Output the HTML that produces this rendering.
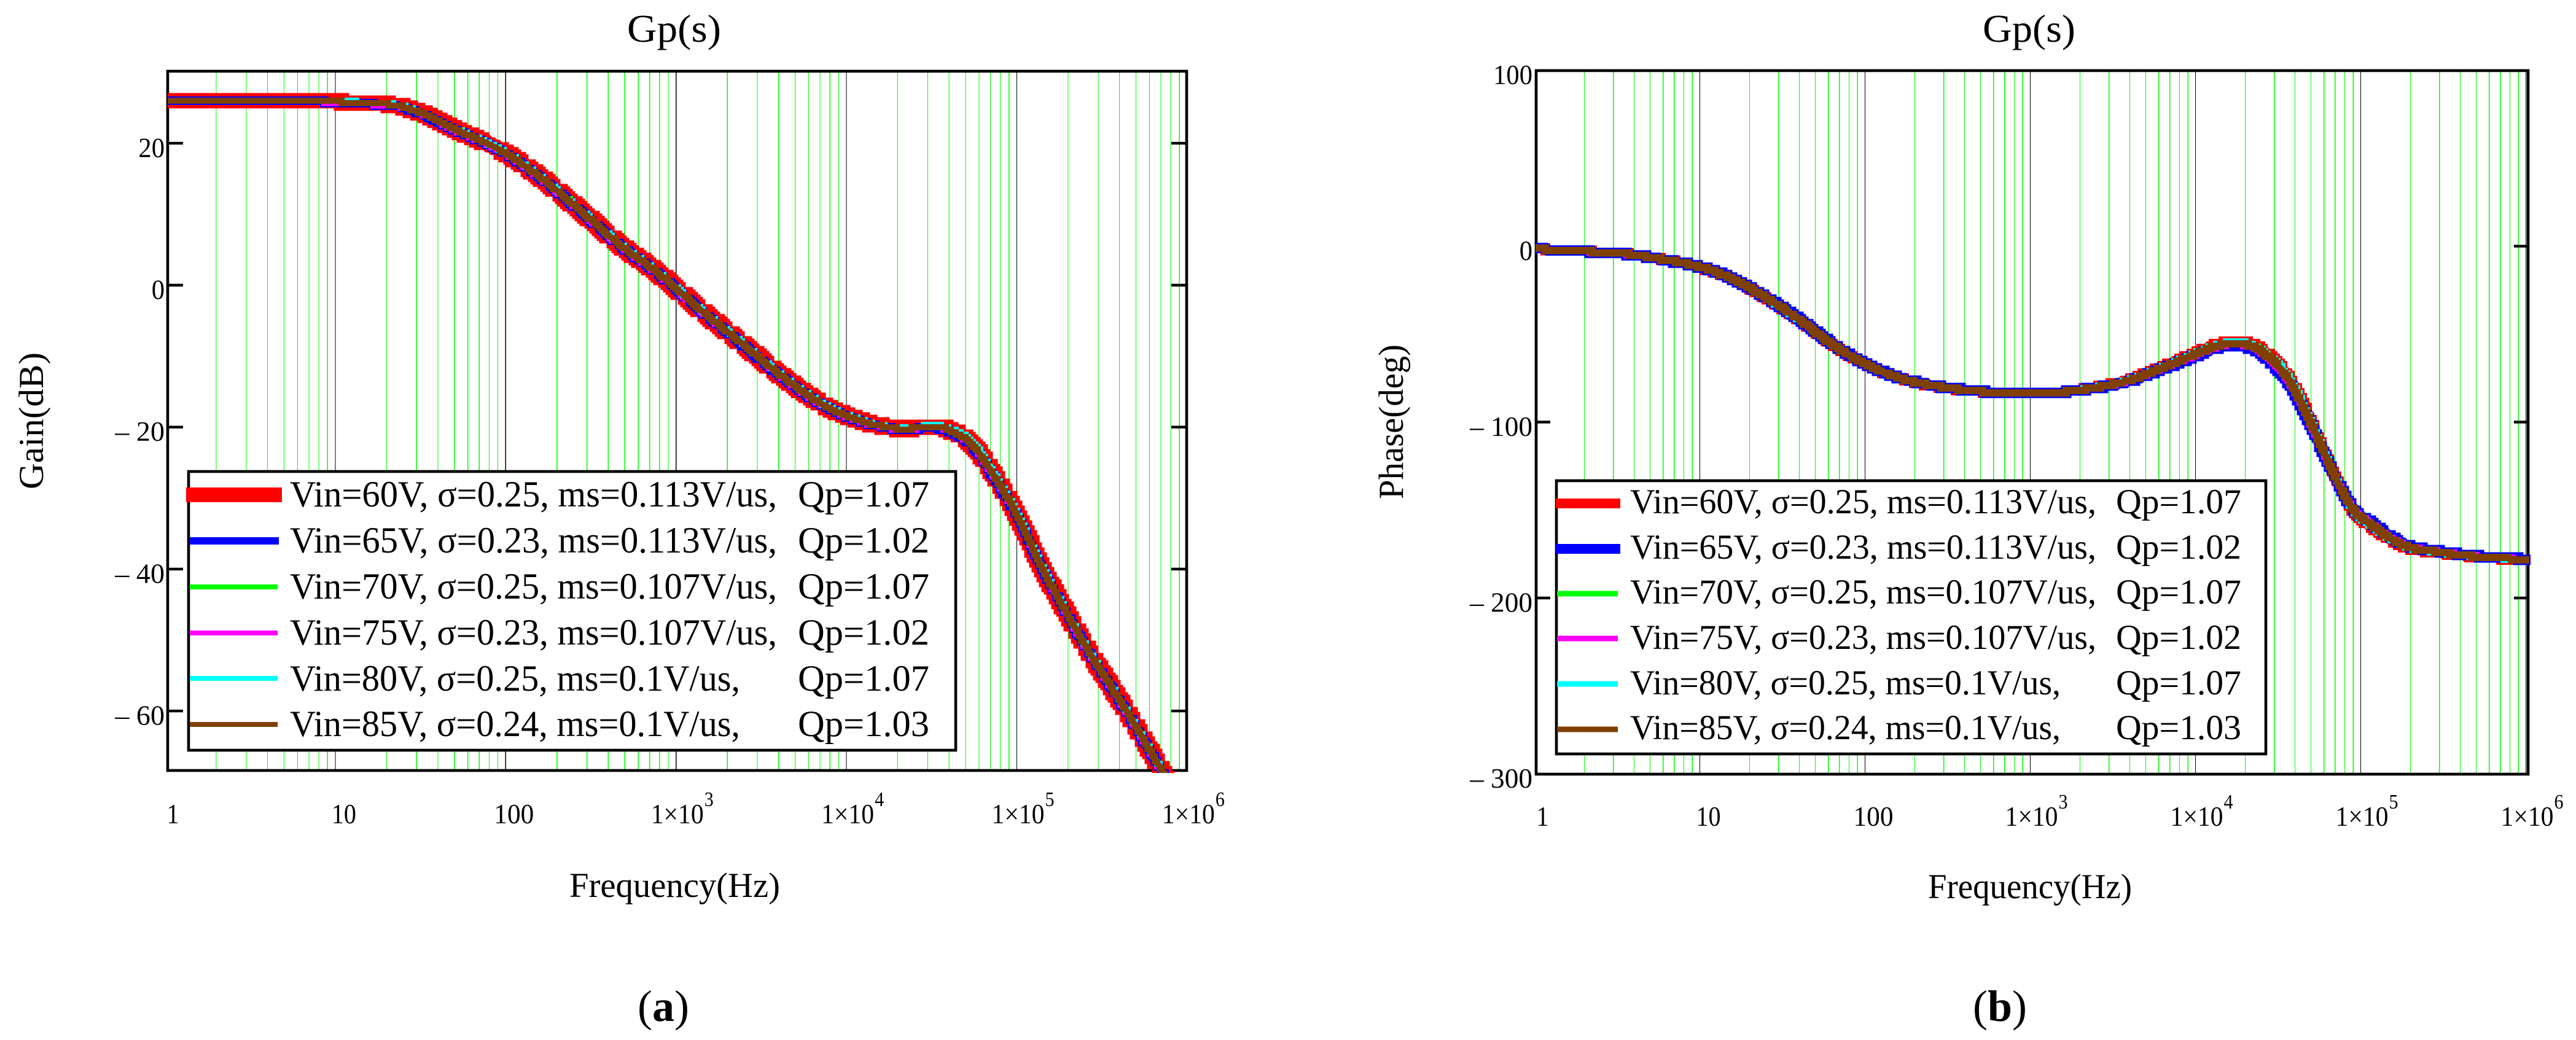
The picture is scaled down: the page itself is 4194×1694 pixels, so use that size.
<!DOCTYPE html>
<html lang="en">
<head>
<meta charset="utf-8">
<title>Gp(s) Bode plots</title>
<style>
html,body{margin:0;padding:0;background:#fff;}
#figure{display:block;width:4194px;height:1694px;background:#fff;}
text{font-family:"Liberation Serif","DejaVu Serif",serif;fill:#000;}
</style>
</head>
<body>
<svg id="figure" xmlns="http://www.w3.org/2000/svg" width="4194" height="1694" viewBox="0 0 4194 1694">
  <defs>
    <clipPath id="gain-clip"><rect x="273" y="116" width="1661" height="1143"/></clipPath>
    <clipPath id="phase-clip"><rect x="2500" y="115" width="1620" height="1148"/></clipPath>
  </defs>

  <g id="gain-panel">
    <g id="gain-grid"></g>
    <rect x="273" y="116" width="1659" height="1139" fill="none" stroke="#000" stroke-width="4.6"/>
    <g id="gain-ticks"></g>
    <g id="gain-series" clip-path="url(#gain-clip)"></g>
    <text x="1021" y="68" font-size="64" textLength="153" lengthAdjust="spacingAndGlyphs">Gp(s)</text>
    <text transform="translate(70,797) rotate(-90)" font-size="57" textLength="223" lengthAdjust="spacingAndGlyphs">Gain(dB)</text>
    <text x="927" y="1461" font-size="57" textLength="343" lengthAdjust="spacingAndGlyphs">Frequency(Hz)</text>
    <g>
      <rect x="307" y="768" width="1249" height="454" fill="#fff" stroke="#000" stroke-width="4.6"/>
      <line x1="303" x2="459" y1="806" y2="806" stroke="#f00" stroke-width="24"/>
      <line x1="309" x2="454" y1="881" y2="881" stroke="#00f" stroke-width="12"/>
      <line x1="309" x2="452" y1="956" y2="956" stroke="#0f0" stroke-width="8"/>
      <line x1="309" x2="452" y1="1031" y2="1031" stroke="#f0f" stroke-width="8"/>
      <line x1="309" x2="452" y1="1105" y2="1105" stroke="#0ff" stroke-width="8"/>
      <line x1="309" x2="452" y1="1180" y2="1180" stroke="#804000" stroke-width="8"/>
      <text x="472" y="825" font-size="60" textLength="793" lengthAdjust="spacingAndGlyphs">Vin=60V, σ=0.25, ms=0.113V/us,</text>
      <text x="1299" y="825" font-size="60" textLength="214" lengthAdjust="spacingAndGlyphs">Qp=1.07</text>
      <text x="472" y="900" font-size="60" textLength="793" lengthAdjust="spacingAndGlyphs">Vin=65V, σ=0.23, ms=0.113V/us,</text>
      <text x="1299" y="900" font-size="60" textLength="214" lengthAdjust="spacingAndGlyphs">Qp=1.02</text>
      <text x="472" y="975" font-size="60" textLength="793" lengthAdjust="spacingAndGlyphs">Vin=70V, σ=0.25, ms=0.107V/us,</text>
      <text x="1299" y="975" font-size="60" textLength="214" lengthAdjust="spacingAndGlyphs">Qp=1.07</text>
      <text x="472" y="1050" font-size="60" textLength="793" lengthAdjust="spacingAndGlyphs">Vin=75V, σ=0.23, ms=0.107V/us,</text>
      <text x="1299" y="1050" font-size="60" textLength="214" lengthAdjust="spacingAndGlyphs">Qp=1.02</text>
      <text x="472" y="1125" font-size="60" textLength="733" lengthAdjust="spacingAndGlyphs">Vin=80V, σ=0.25, ms=0.1V/us,</text>
      <text x="1299" y="1125" font-size="60" textLength="214" lengthAdjust="spacingAndGlyphs">Qp=1.07</text>
      <text x="472" y="1199" font-size="60" textLength="733" lengthAdjust="spacingAndGlyphs">Vin=85V, σ=0.24, ms=0.1V/us,</text>
      <text x="1299" y="1199" font-size="60" textLength="214" lengthAdjust="spacingAndGlyphs">Qp=1.03</text>
    </g>
    <text x="1038" y="1663" font-size="72">(<tspan font-weight="bold">a</tspan>)</text>
  </g>

  <g id="phase-panel">
    <g id="phase-grid"></g>
    <rect x="2501" y="115" width="1615" height="1146" fill="none" stroke="#000" stroke-width="4.6"/>
    <g id="phase-ticks"></g>
    <g id="phase-series" clip-path="url(#phase-clip)"></g>
    <text x="3228" y="68" font-size="64" textLength="151" lengthAdjust="spacingAndGlyphs">Gp(s)</text>
    <text transform="translate(2284,813) rotate(-90)" font-size="57" textLength="252" lengthAdjust="spacingAndGlyphs">Phase(deg)</text>
    <text x="3139" y="1463" font-size="57" textLength="332" lengthAdjust="spacingAndGlyphs">Frequency(Hz)</text>
    <g>
      <rect x="2534" y="783" width="1155" height="445" fill="#fff" stroke="#000" stroke-width="4.6"/>
      <line x1="2533" x2="2638" y1="820" y2="820" stroke="#f00" stroke-width="16"/>
      <line x1="2533" x2="2638" y1="894" y2="894" stroke="#00f" stroke-width="16"/>
      <line x1="2535" x2="2634" y1="967" y2="967" stroke="#0f0" stroke-width="9"/>
      <line x1="2535" x2="2634" y1="1040" y2="1040" stroke="#f0f" stroke-width="9"/>
      <line x1="2535" x2="2634" y1="1114" y2="1114" stroke="#0ff" stroke-width="9"/>
      <line x1="2535" x2="2634" y1="1188" y2="1188" stroke="#804000" stroke-width="9"/>
      <text x="2654" y="836" font-size="57" textLength="759" lengthAdjust="spacingAndGlyphs">Vin=60V, σ=0.25, ms=0.113V/us,</text>
      <text x="3445" y="836" font-size="57" textLength="204" lengthAdjust="spacingAndGlyphs">Qp=1.07</text>
      <text x="2654" y="910" font-size="57" textLength="759" lengthAdjust="spacingAndGlyphs">Vin=65V, σ=0.23, ms=0.113V/us,</text>
      <text x="3445" y="910" font-size="57" textLength="204" lengthAdjust="spacingAndGlyphs">Qp=1.02</text>
      <text x="2654" y="983" font-size="57" textLength="759" lengthAdjust="spacingAndGlyphs">Vin=70V, σ=0.25, ms=0.107V/us,</text>
      <text x="3445" y="983" font-size="57" textLength="204" lengthAdjust="spacingAndGlyphs">Qp=1.07</text>
      <text x="2654" y="1057" font-size="57" textLength="759" lengthAdjust="spacingAndGlyphs">Vin=75V, σ=0.23, ms=0.107V/us,</text>
      <text x="3445" y="1057" font-size="57" textLength="204" lengthAdjust="spacingAndGlyphs">Qp=1.02</text>
      <text x="2654" y="1131" font-size="57" textLength="701" lengthAdjust="spacingAndGlyphs">Vin=80V, σ=0.25, ms=0.1V/us,</text>
      <text x="3445" y="1131" font-size="57" textLength="204" lengthAdjust="spacingAndGlyphs">Qp=1.07</text>
      <text x="2654" y="1204" font-size="57" textLength="701" lengthAdjust="spacingAndGlyphs">Vin=85V, σ=0.24, ms=0.1V/us,</text>
      <text x="3445" y="1204" font-size="57" textLength="204" lengthAdjust="spacingAndGlyphs">Qp=1.03</text>
    </g>
    <text x="3212" y="1663" font-size="72">(<tspan font-weight="bold">b</tspan>)</text>
  </g>
</svg>

<script>
/* ---------- data ---------- */
const gainFreqHz = [1, 9.2, 16, 23, 33.5, 48, 100, 148, 263, 457, 794, 1380, 2400, 4170, 7240, 12900, 20000, 38900, 53700, 75900, 105000, 132000, 204000, 251000, 437000, 708000, 794000];
const gainVin60 = [25.9, 25.9, 25.6, 25.3, 24.05, 22.2, 18.6, 15.8, 10.9, 5.9, 1.6, -3.4, -8.1, -12.8, -16.8, -19.3, -20.2, -20.3, -22.2, -27.3, -33.3, -38.5, -46.9, -50.7, -59.9, -68.4, -70.5];
const gainVin65 = [25.9, 25.8, 25.5, 25.2, 23.9, 22.1, 18.5, 15.7, 10.8, 5.8, 1.5, -3.5, -8.2, -12.9, -16.9, -19.4, -20.3, -20.5, -22.5, -27.6, -33.5, -38.6, -47.0, -50.8, -60.0, -68.5, -70.6];
const gainVin70 = [25.9, 25.9, 25.7, 25.3, 24.1, 22.3, 18.7, 15.9, 11.0, 5.9, 1.6, -3.4, -8.0, -12.8, -16.8, -19.3, -20.1, -20.2, -22.1, -27.2, -33.2, -38.4, -46.9, -50.7, -59.9, -68.4, -70.5];
const gainVin75 = [25.9, 25.8, 25.5, 25.2, 24.0, 22.1, 18.5, 15.7, 10.8, 5.8, 1.5, -3.5, -8.1, -12.9, -16.9, -19.4, -20.3, -20.4, -22.4, -27.5, -33.4, -38.6, -47.0, -50.8, -60.0, -68.5, -70.6];
const gainVin80 = [25.9, 26.0, 25.7, 25.4, 24.1, 22.3, 18.7, 15.9, 11.0, 6.0, 1.7, -3.3, -8.0, -12.7, -16.7, -19.2, -20.1, -20.1, -21.9, -27.1, -33.1, -38.3, -46.8, -50.6, -59.8, -68.3, -70.4];
const gainVin85 = [25.9, 25.9, 25.6, 25.3, 24.05, 22.2, 18.6, 15.8, 10.9, 5.9, 1.6, -3.4, -8.1, -12.8, -16.8, -19.3, -20.2, -20.3, -22.3, -27.4, -33.3, -38.5, -46.9, -50.7, -59.9, -68.4, -70.5];

const phaseFreqHz = [1, 1.58, 2.51, 3.98, 6.17, 9.77, 15.5, 24.5, 38.9, 61.7, 97.7, 151, 240, 380, 603, 1510, 2400, 3800, 5890, 9330, 13200, 18600, 23400, 29500, 37200, 46800, 58900, 74100, 93300, 115000, 135000, 182000, 288000, 513000, 1000000];
const phaseVin60 = [-1.3, -2.5, -3.4, -4.9, -7.8, -11.6, -18.4, -28.8, -41.2, -55.3, -66.6, -74.2, -78.9, -81.6, -83.1, -83.1, -80.4, -76.4, -69.6, -61.8, -56.0, -53.8, -56.6, -63.8, -75.0, -93.0, -114.5, -136.0, -152.5, -159.5, -164.0, -170.8, -174.3, -176.9, -178.3];
const phaseVin65 = [-1.3, -2.5, -3.5, -5.0, -7.9, -11.5, -18.1, -28.5, -40.8, -54.8, -66.2, -73.9, -78.6, -81.4, -83.1, -83.1, -80.8, -77.2, -70.8, -63.6, -58.0, -56.6, -59.4, -67.0, -78.5, -96.5, -116.5, -136.0, -150.8, -157.0, -162.0, -169.2, -173.2, -176.2, -177.9];
const phaseVin70 = [-1.3, -2.5, -3.4, -4.9, -7.8, -11.5, -18.2, -28.6, -40.9, -55.0, -66.4, -74.0, -78.7, -81.5, -83.1, -83.1, -80.5, -76.6, -69.9, -62.2, -56.5, -54.6, -57.2, -64.6, -75.8, -93.8, -115.0, -136.0, -152.0, -158.5, -163.2, -170.2, -173.8, -176.6, -178.1];
const phaseVin75 = [-1.3, -2.5, -3.5, -5.0, -7.8, -11.5, -18.2, -28.6, -40.9, -55.0, -66.4, -74.0, -78.7, -81.5, -83.1, -83.1, -80.7, -77.0, -70.5, -63.2, -57.6, -56.0, -58.8, -66.2, -77.8, -95.8, -116.0, -136.0, -151.0, -157.6, -162.6, -169.6, -173.4, -176.4, -178.0];
const phaseVin80 = [-1.3, -2.5, -3.4, -4.9, -7.8, -11.5, -18.2, -28.7, -41.0, -55.1, -66.4, -74.0, -78.7, -81.5, -83.1, -83.1, -80.5, -76.5, -69.8, -62.0, -56.2, -54.2, -56.8, -64.0, -75.2, -93.2, -114.8, -136.0, -152.2, -159.0, -163.6, -170.4, -174.0, -176.8, -178.2];
const phaseVin85 = [-1.3, -2.5, -3.4, -4.9, -7.8, -11.5, -18.2, -28.6, -40.9, -55.0, -66.4, -74.0, -78.7, -81.5, -83.1, -83.1, -80.6, -76.8, -70.2, -62.6, -57.0, -55.2, -57.9, -65.4, -76.8, -94.8, -115.6, -136.0, -151.6, -158.0, -163.0, -170.0, -173.7, -176.6, -178.1];

const seriesNames = ['vin-60v', 'vin-65v', 'vin-70v', 'vin-75v', 'vin-80v', 'vin-85v'];
const seriesColors = ['#ff0000', '#0000ff', '#00ff00', '#ff00ff', '#00ffff', '#804000'];

const gainTickValues = [20, 0, -20, -40, -60];
const gainTickLabels = ['20', '0', '\u2013 20', '\u2013 40', '\u2013 60'];
const phaseTickValues = [100, 0, -100, -200, -300];
const phaseTickLabels = ['100', '0', '\u2013 100', '\u2013 200', '\u2013 300'];
const decadeExponents = [0, 1, 2, 3, 4, 5, 6];
const decadeLabels = ['1', '10', '100', '1\u00d710', '1\u00d710', '1\u00d710', '1\u00d710'];
const decadePowers = ['', '', '', '3', '4', '5', '6'];

/* ---------- axis functions ---------- */
const gainX = hz => 268.5 + 277.4 * Math.log10(hz);
const gainY = db => 464.5 - 11.56 * db;
const phaseX = hz => 2498.5 + 269 * Math.log10(hz);
const phaseY = deg => 401 - 2.865 * deg;

const NS = 'http://www.w3.org/2000/svg';

function drawGrid(groupId, xFn, top, bottom, prefix) {
  const group = document.getElementById(groupId);
  for (const exp of decadeExponents) {
    if (exp === 6) continue;
    for (let m = 2; m <= 10; m++) {
      const hz = m * Math.pow(10, exp);
      const el = document.createElementNS(NS, 'line');
      
      
      el.setAttribute('x1', xFn(hz));
      el.setAttribute('x2', xFn(hz));
      el.setAttribute('y1', top);
      el.setAttribute('y2', bottom);
      el.setAttribute('stroke', m === 10 ? '#000' : '#00ff00');
      el.setAttribute('stroke-width', '1.2');
      el.setAttribute('shape-rendering', 'crispEdges');
      group.appendChild(el);
    }
  }
}

function drawYTicks(groupId, yFn, values, labels, leftX, rightX, len, labelRight, frameTop, frameBottom, prefix) {
  const group = document.getElementById(groupId);
  values.forEach((value, i) => {
    const y = yFn(value);
    if (y > frameTop + 5 && y < frameBottom - 5) {
      const a = document.createElementNS(NS, 'line');
      
      
      a.setAttribute('x1', leftX);
      a.setAttribute('x2', leftX + len);
      a.setAttribute('y1', y);
      a.setAttribute('y2', y);
      a.setAttribute('stroke', '#000');
      a.setAttribute('stroke-width', '4.4');
      group.appendChild(a);
      const b = document.createElementNS(NS, 'line');
      
      
      b.setAttribute('x1', rightX);
      b.setAttribute('x2', rightX - len);
      b.setAttribute('y1', y);
      b.setAttribute('y2', y);
      b.setAttribute('stroke', '#000');
      b.setAttribute('stroke-width', '4.4');
      group.appendChild(b);
    }
    const label = labels[i];
    const digits = label.replace(/[^0-9]/g, '').length;
    const w = digits * 21.3 + (label.indexOf('\u2013') >= 0 ? 38 : 0);
    const t = document.createElementNS(NS, 'text');
    
    
    t.setAttribute('x', labelRight - w);
    t.setAttribute('y', y + 22.5);
    t.setAttribute('font-size', '45');
    t.setAttribute('textLength', w);
    t.setAttribute('lengthAdjust', 'spacingAndGlyphs');
    t.textContent = label;
    group.appendChild(t);
  });
}

function drawXLabels(groupId, xFn, baseline, prefix) {
  const group = document.getElementById(groupId);
  const offsets = [3, -6, -19, -41, -41, -41, -41];
  const widths = [20, 40, 65, 86, 86, 86, 86];
  decadeExponents.forEach((exp, i) => {
    const x = xFn(Math.pow(10, exp)) + offsets[i];
    const t = document.createElementNS(NS, 'text');
    
    
    t.setAttribute('x', x);
    t.setAttribute('y', baseline);
    t.setAttribute('font-size', '45');
    t.setAttribute('textLength', widths[i]);
    t.setAttribute('lengthAdjust', 'spacingAndGlyphs');
    t.textContent = decadeLabels[i];
    group.appendChild(t);
    if (decadePowers[i]) {
      const s = document.createElementNS(NS, 'text');
      
      
      s.setAttribute('x', x + widths[i] + 1);
      s.setAttribute('y', baseline - 28);
      s.setAttribute('font-size', '34');
      s.setAttribute('textLength', '15');
      s.setAttribute('lengthAdjust', 'spacingAndGlyphs');
      s.textContent = decadePowers[i];
      group.appendChild(s);
    }
  });
}

/* smooth trace through the data, snapped to a coarse pixel grid like the aliased original */
function stepPath(freqs, values, xFn, yFn, grid) {
  const xs = freqs.map(xFn);
  const ys = values.map(yFn);
  const count = xs.length;
  const slopes = [];
  for (let i = 0; i < count; i++) {
    if (i === 0) {
      slopes.push((ys[1] - ys[0]) / (xs[1] - xs[0]));
    } else if (i === count - 1) {
      slopes.push((ys[i] - ys[i - 1]) / (xs[i] - xs[i - 1]));
    } else {
      const h0 = xs[i] - xs[i - 1];
      const h1 = xs[i + 1] - xs[i];
      const s0 = (ys[i] - ys[i - 1]) / h0;
      const s1 = (ys[i + 1] - ys[i]) / h1;
      slopes.push((s0 * h1 + s1 * h0) / (h0 + h1));
    }
  }
  let d = '';
  let lastX = null, lastY = null;
  for (let i = 0; i < count - 1; i++) {
    const h = xs[i + 1] - xs[i];
    const n = 2 * Math.max(1, Math.ceil(Math.max(h, Math.abs(ys[i + 1] - ys[i]))));
    for (let k = 0; k <= n; k++) {
      const t = k / n;
      const t2 = t * t, t3 = t2 * t;
      const yy = (2 * t3 - 3 * t2 + 1) * ys[i] + (t3 - 2 * t2 + t) * h * slopes[i] + (-2 * t3 + 3 * t2) * ys[i + 1] + (t3 - t2) * h * slopes[i + 1];
      const xx = xs[i] + h * t;
      const px = Math.round(xx / grid) * grid;
      const py = Math.round(yy / grid) * grid;
      if (px !== lastX || py !== lastY) {
        d += (d ? 'L' : 'M') + px + ' ' + py;
        lastX = px;
        lastY = py;
      }
    }
  }
  return d;
}

function drawSeries(groupId, freqs, allValues, widths, xFn, yFn, prefix) {
  const group = document.getElementById(groupId);
  allValues.forEach((values, i) => {
    const el = document.createElementNS(NS, 'path');
    
    
    el.setAttribute('d', stepPath(freqs, values, xFn, yFn, 4));
    el.setAttribute('fill', 'none');
    el.setAttribute('stroke', seriesColors[i]);
    el.setAttribute('stroke-width', widths[i]);
    el.setAttribute('stroke-linejoin', 'miter');
    el.setAttribute('stroke-linecap', 'square');
    el.setAttribute('shape-rendering', 'crispEdges');
    group.appendChild(el);
  });
}

drawGrid('gain-grid', gainX, 116, 1255, 'gain');
drawYTicks('gain-ticks', gainY, gainTickValues, gainTickLabels, 273, 1932, 25, 268, 116, 1255, 'gain');
drawXLabels('gain-ticks', gainX, 1341, 'gain');
drawSeries('gain-series', gainFreqHz, [gainVin60, gainVin65, gainVin70, gainVin75, gainVin80, gainVin85], [25, 14, 10, 10, 10, 10], gainX, gainY, 'gain');

drawGrid('phase-grid', phaseX, 115, 1261, 'phase');
drawYTicks('phase-ticks', phaseY, phaseTickValues, phaseTickLabels, 2501, 4116, 23, 2495, 115, 1261, 'phase');
drawXLabels('phase-ticks', phaseX, 1345, 'phase');
drawSeries('phase-series', phaseFreqHz, [phaseVin60, phaseVin65, phaseVin70, phaseVin75, phaseVin80, phaseVin85], [16, 17, 10, 10, 10, 12], phaseX, phaseY, 'phase');
</script>
</body>
</html>
